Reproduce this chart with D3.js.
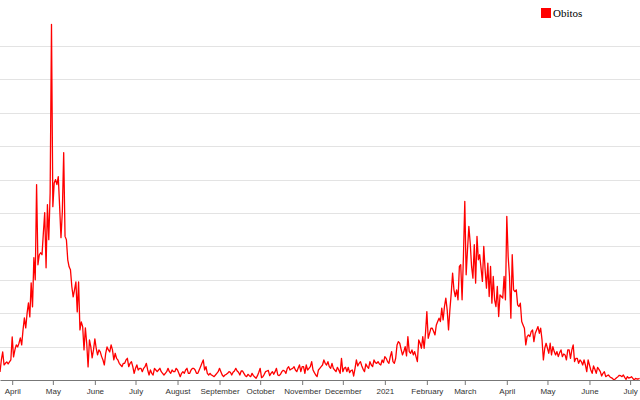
<!DOCTYPE html>
<html>
<head>
<meta charset="utf-8">
<script src="https://cdn.jsdelivr.net/npm/d3@7"></script>
<style>
  body { margin: 0; background: #fff; }
  svg { display: block; }
  .x-axis text { font-family: "Liberation Sans", Arial, sans-serif; font-size: 8px; fill: #333; }
  .x-axis path, .x-axis line { stroke: #777; }
</style>
</head>
<body>
<script>
/* global d3 */

const width = 640;
const height = 400;

// daily deaths, first day 2020-03-23
const startDate = new Date(2020, 2, 23);
const obitos = [
  24, 60, 84, 45, 50, 54, 48, 54, 60, 129, 69, 90, 105, 99, 110, 126, 105, 150, 186, 156,
  200, 231, 189, 291, 219, 366, 300, 585, 345, 375, 381, 375, 440, 501, 336, 525, 420, 560, 1065, 519,
  590, 600, 585, 609, 520, 426, 504, 681, 430, 420, 360, 339, 330, 280, 249, 270, 294, 204, 294, 150,
  174, 160, 90, 156, 110, 39, 120, 100, 66, 90, 123, 95, 75, 90, 84, 70, 60, 45, 80, 99,
  90, 84, 105, 90, 60, 80, 65, 60, 50, 45, 40, 50, 50, 60, 65, 40, 50, 55, 40, 20,
  35, 45, 30, 35, 35, 25, 35, 40, 50, 30, 15, 30, 20, 15, 35, 30, 25, 30, 35, 25,
  20, 15, 20, 25, 35, 25, 20, 30, 25, 25, 35, 30, 20, 10, 20, 25, 20, 30, 35, 20,
  20, 30, 35, 35, 30, 20, 20, 30, 40, 50, 60, 30, 40, 20, 15, 20, 15, 13, 10, 15,
  20, 25, 35, 25, 15, 10, 15, 17, 20, 25, 23, 15, 23, 27, 35, 27, 23, 15, 27, 27,
  20, 13, 10, 17, 13, 10, 20, 13, 9, 5, 13, 23, 35, 7, 10, 17, 25, 27, 29, 13,
  20, 25, 17, 25, 35, 15, 13, 17, 25, 29, 27, 20, 35, 40, 30, 33, 35, 40, 30, 25,
  35, 45, 25, 40, 40, 20, 45, 30, 35, 40, 55, 30, 22, 15, 10, 30, 35, 40, 45, 60,
  50, 45, 55, 40, 35, 50, 35, 30, 25, 38, 30, 20, 65, 25, 35, 38, 25, 38, 22, 28,
  30, 12, 35, 60, 42, 50, 55, 42, 32, 25, 48, 40, 35, 55, 45, 40, 60, 52, 50, 55,
  48, 45, 60, 52, 70, 65, 55, 50, 70, 85, 55, 50, 65, 105, 115, 110, 92, 75, 85, 100,
  72, 130, 85, 80, 90, 75, 85, 70, 55, 120, 110, 95, 130, 95, 140, 205, 125, 140, 155, 155,
  145, 135, 165, 175, 185, 175, 215, 180, 220, 245, 210, 150, 210, 260, 320, 270, 250, 270, 240, 340,
  345, 240, 370, 535, 315, 390, 460, 410, 340, 305, 405, 290, 430, 360, 375, 335, 295, 400, 330, 275,
  350, 250, 340, 230, 310, 240, 220, 280, 190, 255, 250, 245, 310, 240, 490, 370, 310, 185, 375, 270,
  265, 270, 225, 220, 230, 175, 165, 155, 105, 130, 135, 130, 145, 150, 115, 140, 150, 160, 140, 155,
  120, 60, 95, 110, 95, 80, 110, 75, 100, 85, 75, 85, 70, 82, 90, 70, 78, 75, 60, 90,
  90, 65, 90, 105, 55, 65, 65, 50, 60, 55, 45, 60, 45, 25, 60, 45, 30, 20, 42, 32,
  20, 38, 32, 25, 12, 20, 25, 10, 13, 15, 10, 7, 5, 0, 3, 7, 10, 14, 13, 10,
  15, 8, 2, 10, 6, 7, 10, 5, 0, 5, 3, 3, 5
];

const yTicks = [100, 200, 300, 400, 500, 600, 700, 800, 900, 1000];
const seriesName = 'Obitos';

const data = obitos.map((v, i) => ({ date: d3.timeDay.offset(startDate, i), value: v }));

const svg = d3.select('body').append('svg')
  .attr('width', width)
  .attr('height', height);

const x = d3.scaleTime()
  .domain([startDate, d3.timeDay.offset(startDate, obitos.length - 1)])
  .range([0, 639.6]);

const y = d3.scaleLinear()
  .domain([0, 1000])
  .range([380, 46]);

// horizontal grid
svg.append('g')
  .selectAll('line')
  .data(yTicks)
  .enter().append('line')
    .attr('x1', 0)
    .attr('x2', width)
    .attr('y1', d => Math.round(y(d)) + 0.5)
    .attr('y2', d => Math.round(y(d)) + 0.5)
    .style('stroke', '#e3e3e3')
    .style('stroke-width', 1);

const line = d3.line()
  .x(d => x(d.date))
  .y(d => y(d.value));

svg.append('path')
  .datum(data)
  .attr('d', line)
  .style('fill', 'none')
  .style('stroke', '#ff0000')
  .style('stroke-width', 1.3)
  .style('stroke-linejoin', 'round');

svg.append('g')
  .attr('class', 'x-axis')
  .attr('transform', 'translate(0,380)')
  .call(d3.axisBottom(x)
    .ticks(d3.timeMonth.every(1))
    .tickSize(5)
    .tickSizeOuter(0)
    .tickPadding(3));

// legend
const legend = svg.append('g')
  .attr('transform', 'translate(541,8)');

legend.append('rect')
  .attr('width', 10)
  .attr('height', 10)
  .style('fill', '#ff0000');

legend.append('text')
  .attr('x', 12)
  .attr('y', 9)
  .text(seriesName)
  .style('font-family', '"Liberation Serif", "Times New Roman", serif')
  .style('font-size', '11px')
  .style('fill', '#000');
</script>
</body>
</html>
